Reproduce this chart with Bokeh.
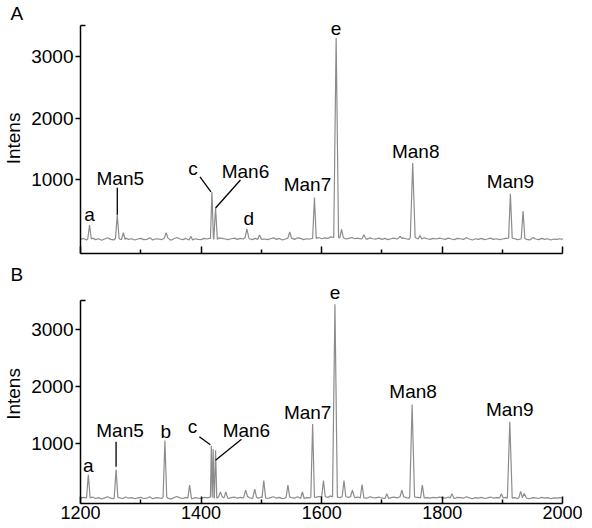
from bokeh.plotting import figure
from bokeh.layouts import column
from bokeh.models import ColumnDataSource, LabelSet, FixedTicker, Range1d
from bokeh.core.properties import value
from bokeh.embed import file_html
from bokeh.resources import INLINE

# ---------------- data ----------------
MZ_START = 1200
MZ_STEP = 5

# baseline noise, one value every 5 m/z from 1200 to 2000
baseline_a = [30, 45, 20, 35, 50, 25, 40, 15, 35, 55, 30, 20, 45, 35, 25, 50, 30, 40, 20, 35,
              45, 25, 30, 55, 20, 40, 35, 25, 50, 30, 15, 40, 60, 35, 25, 45, 30, 20, 40, 30,
              25, 45, 35, 50, 40, 30, 55, 45, 35, 25, 40, 50, 30, 45, 35, 60, 40, 25, 45, 30,
              50, 35, 25, 40, 55, 30, 45, 20, 35, 50, 40, 30, 55, 45, 25, 40, 35, 50, 45, 60,
              40, 55, 45, 70, 50, 60, 40, 55, 35, 45, 60, 40, 50, 35, 45, 30, 55, 40, 35, 50,
              30, 45, 25, 40, 50, 35, 45, 55, 40, 30, 60, 50, 45, 35, 55, 40, 30, 45, 35, 50,
              40, 30, 50, 35, 25, 45, 40, 30, 55, 35, 20, 40, 30, 45, 25, 35, 50, 30, 40, 25,
              35, 45, 30, 50, 40, 25, 35, 45, 30, 20, 40, 35, 25, 45, 30, 40, 20, 35, 30, 40,
              30]
baseline_b = [40, 55, 30, 45, 60, 35, 50, 25, 45, 65, 40, 30, 55, 45, 35, 60, 40, 50, 30, 45,
              55, 35, 40, 65, 30, 50, 45, 35, 60, 40, 25, 50, 70, 45, 35, 55, 40, 30, 50, 40,
              35, 55, 45, 60, 50, 40, 65, 55, 45, 35, 50, 60, 40, 55, 45, 70, 50, 35, 55, 40,
              60, 45, 35, 50, 65, 40, 55, 30, 45, 60, 50, 40, 65, 55, 35, 50, 45, 60, 55, 70,
              50, 65, 55, 80, 60, 70, 50, 65, 45, 55, 70, 50, 60, 45, 55, 40, 65, 50, 45, 60,
              40, 55, 35, 50, 60, 45, 55, 65, 50, 40, 70, 60, 55, 45, 65, 50, 40, 55, 45, 60,
              50, 40, 60, 45, 35, 55, 50, 40, 65, 45, 30, 50, 40, 55, 35, 45, 60, 40, 50, 35,
              45, 55, 40, 60, 50, 35, 45, 55, 40, 30, 50, 45, 35, 55, 40, 50, 30, 45, 40, 50,
              40]

# peaks: position (m/z), intensity, half width at base (m/z)
peak_mz_a = [1215, 1261, 1271, 1342, 1383, 1418, 1424, 1476, 1497, 1547, 1588, 1624, 1633,
             1670, 1730, 1751, 1763, 1913, 1934, 1951]
peak_int_a = [260, 430, 140, 140, 80, 800, 540, 200, 100, 150, 710, 3300, 190,
              105, 80, 1270, 90, 770, 490, 60]
peak_hw_a = [3, 3, 3, 3, 3, 2.5, 3, 3, 3, 3, 3, 4, 3,
             3, 3, 4, 3, 3, 3, 3]

peak_mz_b = [1213, 1259, 1340, 1381, 1417, 1420, 1424, 1432, 1441, 1474, 1489, 1504, 1544,
             1568, 1585, 1603, 1622, 1637, 1651, 1667, 1708, 1733, 1750, 1767, 1816, 1898,
             1912, 1930, 1936]
peak_int_b = [450, 540, 1050, 270, 960, 900, 880, 150, 150, 180, 200, 350, 270,
              150, 1340, 350, 3440, 350, 180, 280, 120, 180, 1680, 270, 120, 120,
              1380, 160, 120]
peak_hw_b = [3, 3, 3, 3, 1.5, 1.5, 2, 3, 3, 3, 3, 3, 3,
             3, 3, 3, 4, 3, 3, 3, 3, 3, 4, 3, 3, 3,
             4, 3, 3]

label_text_a = ["a", "Man5", "c", "Man6", "d", "Man7", "e", "Man8", "Man9"]
label_peak_a = [1215, 1261, 1418, 1424, 1476, 1588, 1624, 1751, 1913]
label_text_b = ["a", "Man5", "b", "c", "Man6", "Man7", "e", "Man8", "Man9"]
label_peak_b = [1213, 1259, 1340, 1417, 1424, 1585, 1622, 1750, 1912]

x_min, x_max = 1200, 2000
x_major_ticks = [1200, 1400, 1600, 1800, 2000]
x_minor_ticks = [1300, 1500, 1700, 1900]
y_ticks = [1000, 2000, 3000]
y_axis_top = 3500
y_title = "Intens"
panel_names = ["A", "B"]

# ---------------- layout / style ----------------
FONT = "Liberation Sans"
FS = "19px"
FIG_W = 582
BORDER_L, BORDER_R = 78, 10
FRAME_W = FIG_W - BORDER_L - BORDER_R
X_END = 2016          # frame extends a little past the axis end (axis bounded at 2000)
TRACE_COLOR = "#8c8c8c"

# label offsets in px (dx right, dy up) from peak top to label baseline centre
label_off_a = [(0, 4), (3, 30), (-19, 17), (30, 30), (2, 4), (-7, 6), (0, 3), (3, 5), (0, 6)]
label_off_b = [(0, 3), (4, 33), (1, 3), (-19, 13), (31, 13), (-5, 5), (0, 5), (1, 7), (0, 6)]
# leader lines: label text -> (start offset from label anchor px, end offset from peak top px)
leaders_a = {"Man5": ((-3, -3), (0, 0)), "c": ((7, -2), (-1, 0)), "Man6": ((-5, -2), (0, 0))}
leaders_b = {"Man5": ((-4, -5), (0, 3)), "c": ((7, -4), (-1, 1)), "Man6": ((-5, -2), (0, -10))}


def build_trace(baseline, pk_mz, pk_int, pk_hw):
    pts = []
    for i, yv in enumerate(baseline):
        xv = MZ_START + i * MZ_STEP
        if all(abs(xv - m) > w for m, w in zip(pk_mz, pk_hw)):
            pts.append((xv, yv))
    for m, h, w in zip(pk_mz, pk_int, pk_hw):
        b = baseline[int(round((m - MZ_START) / MZ_STEP))]
        pts += [(m - w, b), (m, h), (m + w, b)]
    pts.sort()
    return [q[0] for q in pts], [q[1] for q in pts]


def make_panel(name, baseline, pk_mz, pk_int, pk_hw, lab_text, lab_peak, lab_off, leaders,
               y0, y1, height, top_b, bottom_b, show_x_labels):
    frame_h = height - top_b - bottom_b
    p = figure(width=FIG_W, height=height, title=name,
               x_range=Range1d(x_min, X_END), y_range=Range1d(y0, y1),
               output_backend="svg", toolbar_location=None,
               min_border_left=BORDER_L, min_border_right=BORDER_R,
               min_border_top=top_b, min_border_bottom=bottom_b)
    p.outline_line_color = None
    p.xgrid.grid_line_color = None
    p.ygrid.grid_line_color = None
    p.background_fill_color = None
    p.border_fill_color = None
    p.title.align = "left"
    p.title.offset = -70
    p.title.standoff = 0
    p.title.text_font = FONT
    p.title.text_font_size = FS
    p.title.text_font_style = "normal"
    p.title.text_color = "black"

    kx = FRAME_W / float(X_END - x_min)
    ky = frame_h / float(y1 - y0)

    xs, ys = build_trace(baseline, pk_mz, pk_int, pk_hw)
    p.line(xs, ys, line_color=TRACE_COLOR, line_width=1.2)

    # peak labels and leader lines
    ph = dict(zip(pk_mz, pk_int))
    lx, ly = [], []
    sx0, sy0, sx1, sy1 = [], [], [], []
    for t, m, (dx, dy) in zip(lab_text, lab_peak, lab_off):
        ax = m + dx / kx
        ay = ph[m] + dy / ky
        lx.append(ax)
        ly.append(ay)
        if t in leaders:
            (s_dx, s_dy), (e_dx, e_dy) = leaders[t]
            sx0.append(ax + s_dx / kx)
            sy0.append(ay + s_dy / ky)
            sx1.append(m + e_dx / kx)
            sy1.append(ph[m] + e_dy / ky)
    p.segment(x0=sx0, y0=sy0, x1=sx1, y1=sy1, line_color="black", line_width=1.3)
    src = ColumnDataSource(dict(x=lx, y=ly, t=lab_text))
    p.add_layout(LabelSet(x="x", y="y", text="t", source=src, text_align="center",
                          text_baseline="alphabetic", text_font=value(FONT),
                          text_font_size=value(FS), text_color="black"))

    xa = p.xaxis[0]
    xa.ticker = FixedTicker(ticks=x_major_ticks, minor_ticks=x_minor_ticks)
    xa.bounds = (x_min, x_max)
    xa.axis_line_color = "black"
    xa.axis_line_width = 1.5
    xa.major_tick_line_width = 1.5
    xa.minor_tick_line_width = 1.5
    xa.minor_tick_line_color = "black"
    xa.major_tick_in = 7
    xa.major_tick_out = 0
    xa.minor_tick_in = 4
    xa.minor_tick_out = 0
    xa.major_label_text_font = FONT
    xa.major_label_text_color = "black"
    if show_x_labels:
        xa.major_label_text_font_size = "18px"
        xa.major_label_standoff = 2
    else:
        xa.major_label_overrides = {t: "" for t in x_major_ticks}
        xa.major_label_text_font_size = "1px"
        xa.major_label_standoff = 0

    ya = p.yaxis[0]
    ya.ticker = FixedTicker(ticks=y_ticks, minor_ticks=[y_axis_top])
    ya.bounds = (y0, y_axis_top)
    ya.axis_line_width = 1.5
    ya.major_tick_line_width = 1.5
    ya.minor_tick_line_width = 1.5
    ya.minor_tick_line_color = "black"
    ya.major_tick_in = 0
    ya.major_tick_out = 5
    ya.minor_tick_in = 5
    ya.minor_tick_out = 0
    ya.major_label_standoff = 2
    ya.major_label_text_font = FONT
    ya.major_label_text_font_size = FS
    ya.major_label_text_color = "black"
    ya.axis_label = y_title
    ya.axis_label_text_font = FONT
    ya.axis_label_text_font_size = FS
    ya.axis_label_text_font_style = "normal"
    ya.axis_label_text_color = "black"
    ya.axis_label_standoff = 4
    return p


pa = make_panel(panel_names[0], baseline_a, peak_mz_a, peak_int_a, peak_hw_a,
                label_text_a, label_peak_a, label_off_a, leaders_a,
                -200, 3537, 261, 23, 8, False)
pb = make_panel(panel_names[1], baseline_b, peak_mz_b, peak_int_b, peak_hw_b,
                label_text_b, label_peak_b, label_off_b, leaders_b,
                -53, 3784, 265, 23, 23, True)

layout = column(pa, pb, spacing=0)
open("out.html", "w").write(file_html(layout, INLINE))
